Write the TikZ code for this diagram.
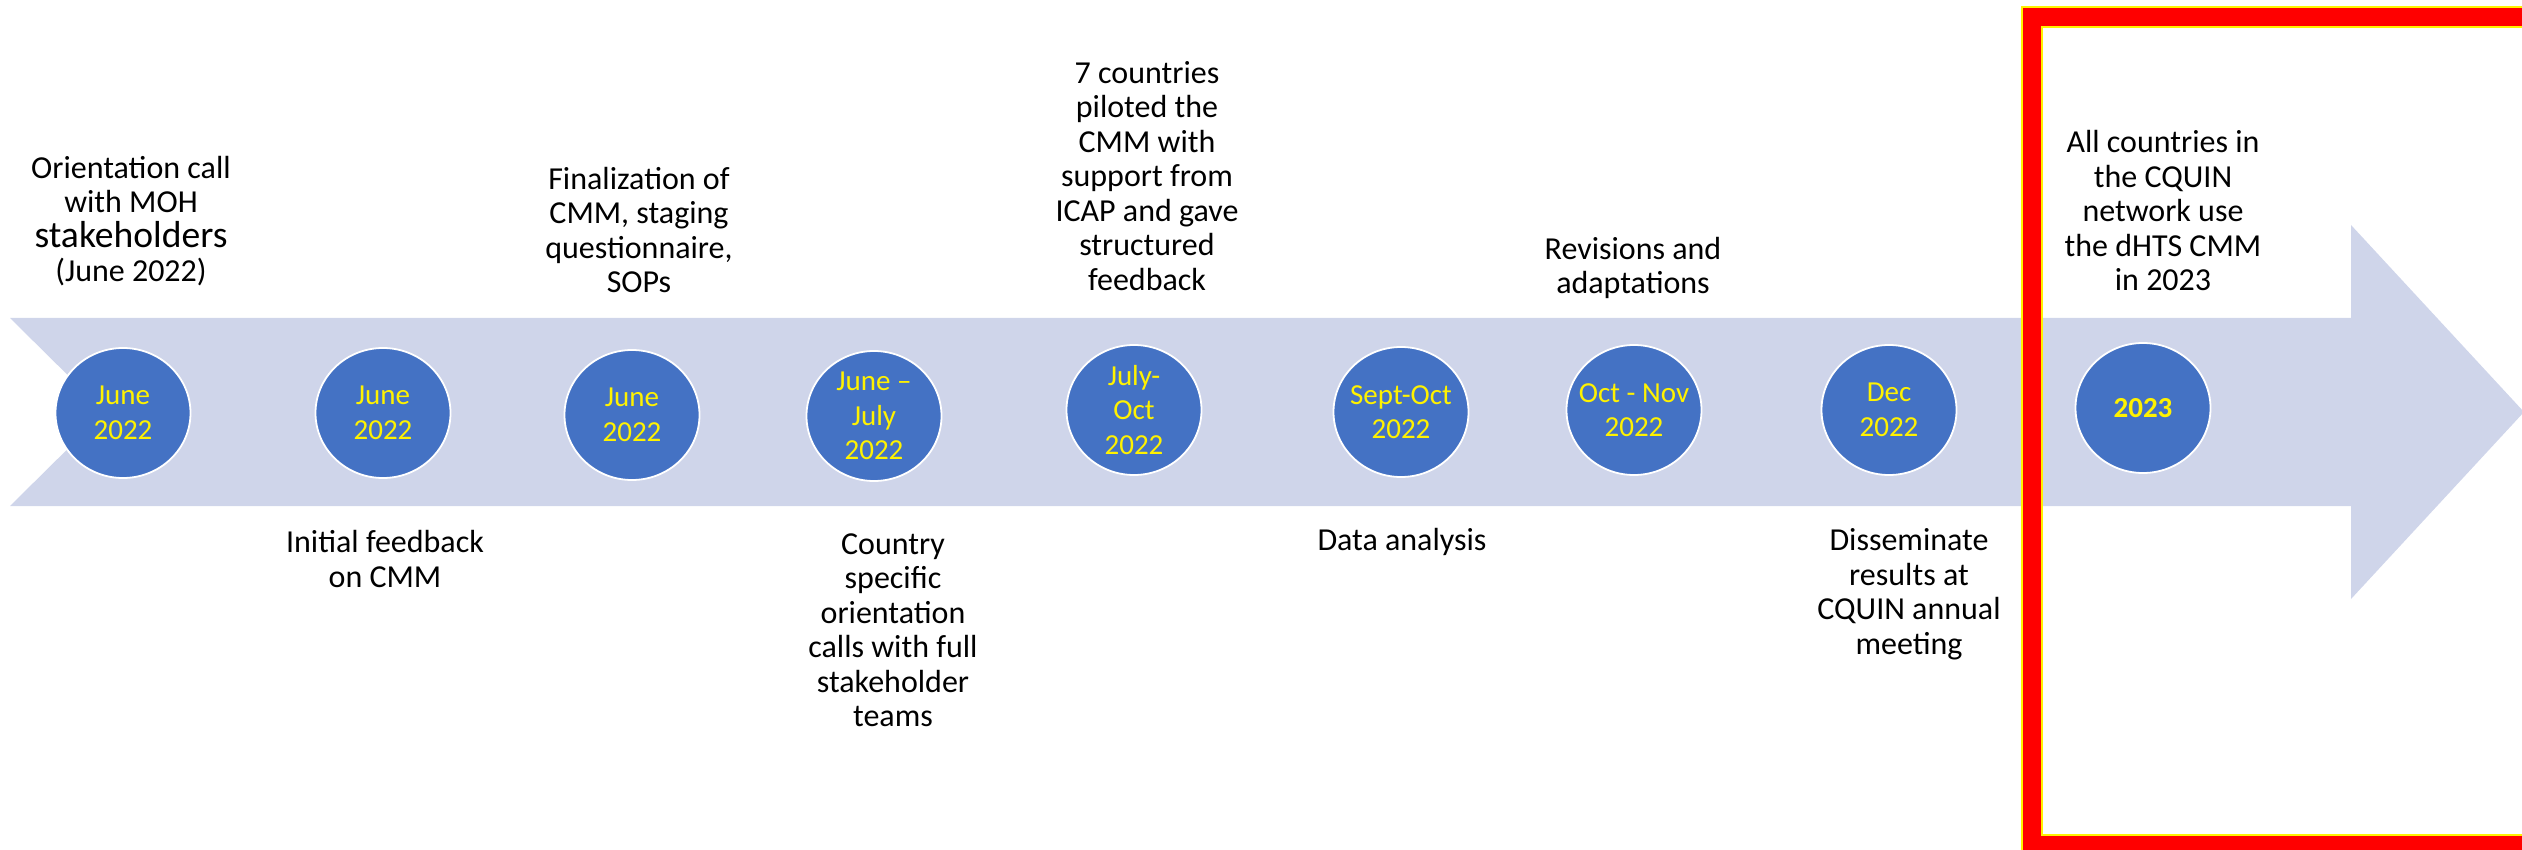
\documentclass[tikz,border=0pt]{standalone}
\usepackage{fontspec}
\setmainfont{Carlito}
\usepackage{tikz}
\usetikzlibrary{shapes.geometric}
\definecolor{bandblue}{HTML}{CFD5EA}
\definecolor{dotblue}{HTML}{4472C4}

\begin{document}
\begin{tikzpicture}[
    x = 0.5pt,
    y = -0.5pt,
    dot/.style={
        ellipse,
        draw = white,
        line width = 0.9pt,
        fill = dotblue,
        inner sep = 0pt,
        minimum width = 67.5pt,
        minimum height = 65pt
    },
    datelbl/.style={
        text = yellow,
        align = center,
        inner sep = 0pt,
        font = \fontsize{14.5}{17.25}\selectfont
    },
    note/.style={
        text = black,
        align = center,
        inner sep = 0pt,
        font = \fontsize{16}{17.25}\selectfont
    },
    frame/.style={
        draw = red,
        line width = 9pt
    }
]

\useasboundingbox (0,0) rectangle (2522,850);
\clip (0,0) rectangle (2522,850);

% timeline band with head
\fill[bandblue] (10,318) -- (2351,318) -- (2351,225) -- (2524,412)
    -- (2351,599) -- (2351,506) -- (10,506) -- (105,412) -- cycle;

% dates
\foreach \i/\px/\py/\txt in {
    1/123/413/{June\\2022},
    2/383/413/{June\\2022},
    3/632/415/{June\\2022},
    4/874/416/{June --\\July\\2022},
    5/1134/410/{July-\\Oct\\2022},
    6/1401/412/{Sept-Oct\\2022},
    7/1634/410/{Oct - Nov\\2022},
    8/1889/410/{Dec\\2022},
    9/2143/408/{\bfseries 2023}}
{
    \node[dot] (d\i) at (\px,\py) {};
    \node[datelbl] (l\i) at (d\i) {\txt};
}

% notes above the band
\node[note] (t1) at (131,221) {Orientation call\\with MOH\\{\fontsize{18.8}{17.25}\selectfont stakeholders}\\(June 2022)};
\node[note] (t3) at (639,230) {Finalization of\\CMM, staging\\questionnaire,\\SOPs};
\node[note] (t5) at (1147,176) {7 countries\\piloted the\\CMM with\\support from\\ICAP and gave\\structured\\feedback};
\node[note] (t7) at (1633,268) {Revisions and\\adaptations};
\node[note] (t9) at (2163,211) {All countries in\\the CQUIN\\network use\\the dHTS CMM\\in 2023};

% notes below the band
\node[note] (b2) at (385,559) {Initial feedback\\on CMM};
\node[note] (b4) at (893,630) {Country\\specific\\orientation\\calls with full\\stakeholder\\teams};
\node[note] (b6) at (1402,542) {Data analysis};
\node[note] (b8) at (1909,594) {Disseminate\\results at\\CQUIN annual\\meeting};

% highlight of 2023
\draw[yellow, line width = 11pt] (2032,17) rectangle (2570,845);
\draw[frame] (2032,17) rectangle (2570,845);

\end{tikzpicture}
\end{document}
